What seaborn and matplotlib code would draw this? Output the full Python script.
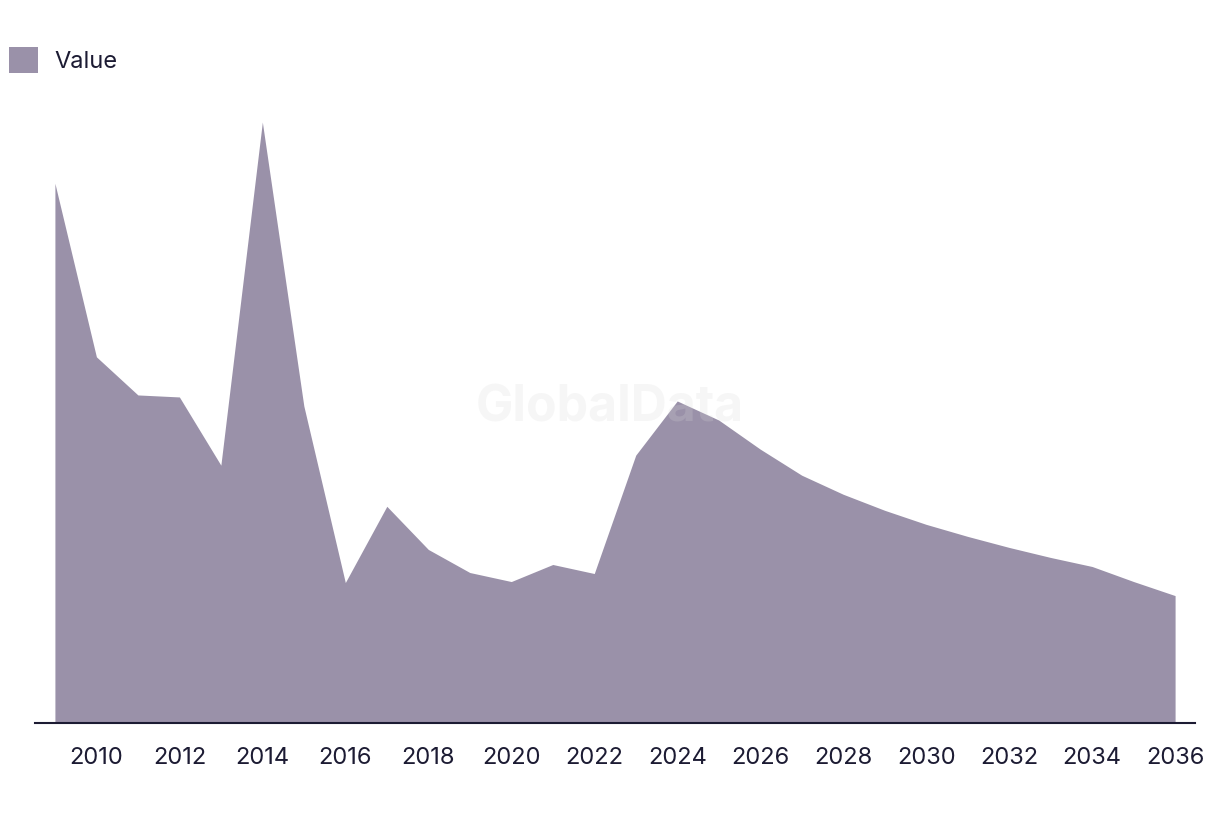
import matplotlib
matplotlib.use("Agg")
import matplotlib.pyplot as plt
import seaborn as sns
import pandas as pd

years = list(range(2009, 2037))
values = [538, 365, 327, 325, 257, 599, 316, 140, 216, 173, 150, 141, 158, 149,
          267, 321, 302, 273, 247, 228, 212, 198, 186, 175, 165, 156, 141, 127]
tick_years = list(range(2010, 2037, 2))

sns.set_theme(style="white")
plt.rcParams['font.family'] = ['Inter', 'DejaVu Sans']

fill_color = "#9a91a9"
text_color = "#1c1b33"

df = pd.DataFrame({"year": years, "value": values})

fig = plt.figure(figsize=(12.2, 8.14), dpi=100)
ax = fig.add_axes([35/1220, 91/814, 1160/1220, 623/814])

sns.lineplot(data=df, x="year", y="value", ax=ax, color=fill_color, linewidth=0)
area = ax.fill_between(df["year"], df["value"], 0, color=fill_color, linewidth=0, label="Value")

ax.set_xlim(2008.52, 2036.48)
ax.set_ylim(0, 621)
ax.set_xticks(tick_years)
ax.set_xticklabels([str(y) for y in tick_years], fontsize=17, color=text_color)
ax.set_yticks([])
ax.set_xlabel("")
ax.set_ylabel("")
for s in ["top", "right", "left"]:
    ax.spines[s].set_visible(False)
ax.spines["bottom"].set_color(text_color)
ax.spines["bottom"].set_linewidth(1.5)
ax.tick_params(axis="x", length=0, pad=17)

ax.text(0.5, 1 - 408/814, "GlobalData", transform=fig.transFigure, ha="center", va="center",
        fontsize=36, fontweight="bold", color="#d8d8d8", alpha=0.22, zorder=10)

fig.legend(handles=[area], labels=["Value"], loc="upper left", bbox_to_anchor=(0.0, 0.954),
           frameon=False, fontsize=17, handlelength=1.2, handleheight=1.35,
           handletextpad=0.7, borderaxespad=0, borderpad=0.4, labelcolor=text_color)

fig.savefig("out.png", dpi=100)
